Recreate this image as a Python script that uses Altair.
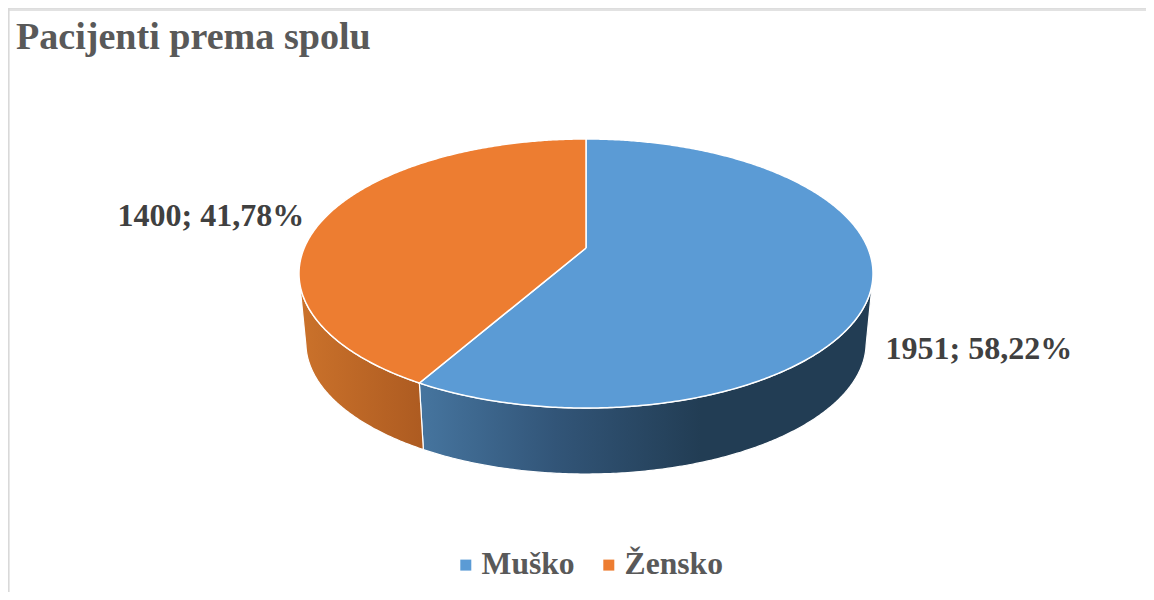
import math
import altair as alt
import pandas as pd

title = "Pacijenti prema spolu"
categories = ["Muško", "Žensko"]
values = [1951, 1400]
top_colors = ["#5B9BD5", "#ED7D31"]
label_colors = "#404040"
text_gray = "#595959"
label_anchor = {"Muško": (885.5, 359), "Žensko": (117.5, 226)}
title_anchor = (16, 49)
FONT = "Liberation Serif"

# perspective tilt of the pie, in reference pixels
HX, HY = 586.0, 248.0
A, B, K = 281.8, 129.7, 0.1896
LOW_SCALE, LOW_DY = 0.976, 69.8
START_SIDE, END_SIDE = 102.0, 258.0


def rim(theta, low=False):
    t = math.radians(theta)
    w = 1 + K * math.cos(t)
    x = A * math.sin(t) / w
    y = -B * math.cos(t) / w
    if low:
        return HX + LOW_SCALE * x, HY + LOW_SCALE * y + LOW_DY
    return HX + x, HY + y


def sweep(a, b, low=False):
    n = max(int(abs(b - a)), 2) * 2
    return [rim(a + (b - a) * i / n, low) for i in range(n + 1)]


total = sum(values)
shares = [v / total for v in values]
boundary = 360 * shares[0]

top_rows = []
for name, a, b in [(categories[0], 0, boundary), (categories[1], boundary, 360)]:
    pts = [(HX, HY)] + sweep(a, b) + [(HX, HY)]
    for n, (x, y) in enumerate(pts):
        top_rows.append({"cat": name, "x": x, "y": y, "i": n})
top_df = pd.DataFrame(top_rows)


def side_df(a, b):
    pts = sweep(a, b) + sweep(b, a, True)
    pts.append(pts[0])
    return pd.DataFrame([{"x": x, "y": y, "i": n} for n, (x, y) in enumerate(pts)])


x_scale = alt.Scale(domain=[8, 1146], range=[0, 1138], nice=False, zero=False)
y_scale = alt.Scale(domain=[8, 592], range=[0, 584], nice=False, zero=False)
X = alt.X("x:Q", scale=x_scale, axis=None)
Y = alt.Y("y:Q", scale=y_scale, axis=None)


def gradient(stops):
    return {
        "gradient": "linear", "x1": 0, "y1": 0, "x2": 1, "y2": 0,
        "stops": [{"offset": o, "color": c} for o, c in stops],
    }


blue_side = alt.Chart(side_df(START_SIDE, boundary)).mark_line(
    fill=gradient([(0, "#46759F"), (0.3, "#325578"), (0.62, "#223D54"), (1, "#223D54")]),
    stroke="white", strokeWidth=1.2,
).encode(x=X, y=Y, order="i:Q")

orange_side = alt.Chart(side_df(boundary, END_SIDE)).mark_line(
    fill=gradient([(0, "#CB722B"), (1, "#AD5B21")]),
    stroke="white", strokeWidth=1.2,
).encode(x=X, y=Y, order="i:Q")

top = alt.Chart(top_df).mark_line(stroke="white", strokeWidth=1.5).encode(
    x=X, y=Y, order="i:Q",
    fill=alt.Fill(
        "cat:N",
        scale=alt.Scale(domain=categories, range=top_colors),
        legend=alt.Legend(
            title=None, orient="none", legendX=442, legendY=541, direction="horizontal",
            columns=2, symbolType="square", symbolSize=121, symbolStrokeWidth=0,
            labelFont=FONT, labelFontSize=31.6, labelFontWeight="bold", labelColor=text_gray,
            labelOffset=0, columnPadding=18, labelLimit=300,
        ),
    ),
)

labels_df = pd.DataFrame([
    {
        "x": label_anchor[c][0], "y": label_anchor[c][1],
        "t": f"{v}; {100 * v / total:.2f}%".replace(".", ","),
    }
    for c, v in zip(categories, values)
])
labels = alt.Chart(labels_df).mark_text(
    font=FONT, fontSize=32, fontWeight="bold", color=label_colors,
    align="left", baseline="alphabetic",
).encode(x=X, y=Y, text="t:N")

title_mark = alt.Chart(pd.DataFrame({"x": [title_anchor[0]], "y": [title_anchor[1]], "t": [title]})).mark_text(
    font=FONT, fontSize=38.1, fontWeight="bold", color=text_gray,
    align="left", baseline="alphabetic",
).encode(x=X, y=Y, text="t:N")

frame_left = alt.Chart(pd.DataFrame({"x": [8.8]})).mark_rule(color="#D9D9D9", strokeWidth=1.6).encode(
    x=X)
frame_top = alt.Chart(pd.DataFrame({"y": [10]})).mark_rule(color="#D9D9D9", strokeWidth=1.6).encode(
    y=Y)

chart = alt.layer(frame_left, frame_top, blue_side, orange_side, top, labels, title_mark).properties(
    width=1138, height=584,
    padding=0,
    autosize=alt.AutoSizeParams(type="none"),
).configure_view(stroke=None).configure(background="white")

chart.save("out.html", embed_options={"renderer": "svg", "actions": False})
